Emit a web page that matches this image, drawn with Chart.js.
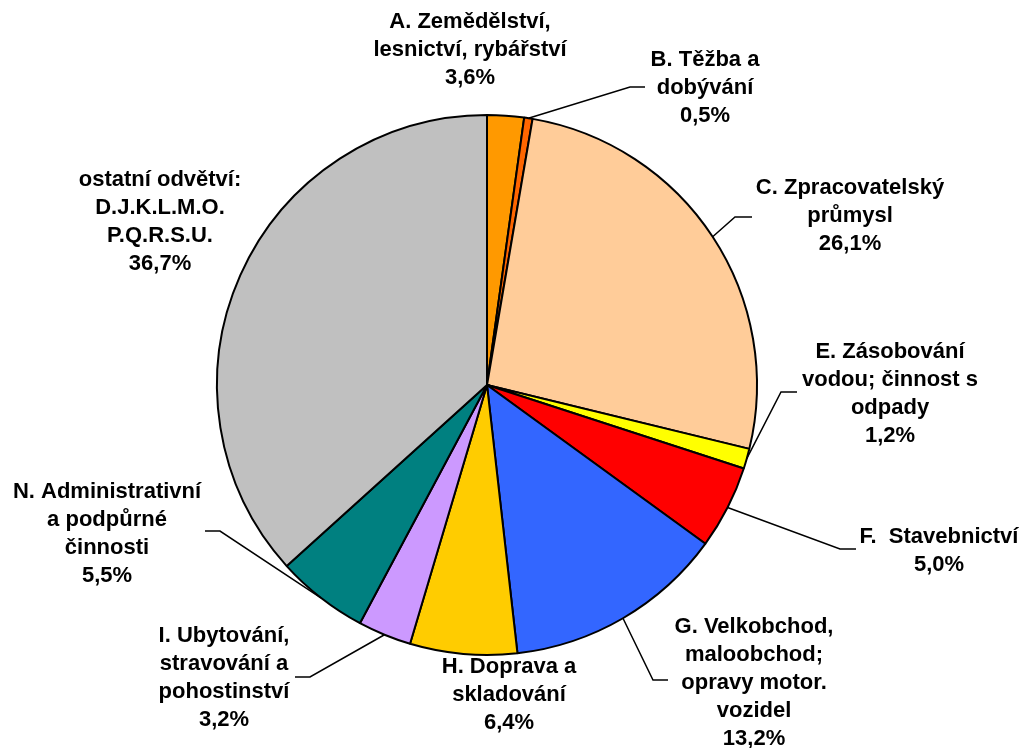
<!DOCTYPE html>
<html lang="cs">
<head>
    <meta charset="UTF-8">
    <title>Odvětví</title>
    <script src="https://cdn.jsdelivr.net/npm/chart.js"></script>
    <style>
        body { margin: 0; background: #ffffff; }
        canvas { display: block; }
    </style>
</head>
<body>
    <canvas id="pie" width="1022" height="748"></canvas>

    <script>
        // data
        const labels = [
            ['A. Zemědělství,', 'lesnictví, rybářství', '3,6%'],
            ['B. Těžba a', 'dobývání', '0,5%'],
            ['C. Zpracovatelský', 'průmysl', '26,1%'],
            ['E. Zásobování', 'vodou; činnost s', 'odpady', '1,2%'],
            ['F.  Stavebnictví', '5,0%'],
            ['G. Velkobchod,', 'maloobchod;', 'opravy motor.', 'vozidel', '13,2%'],
            ['H. Doprava a', 'skladování', '6,4%'],
            ['I. Ubytování,', 'stravování a', 'pohostinství', '3,2%'],
            ['N. Administrativní', 'a podpůrné', 'činnosti', '5,5%'],
            ['ostatní odvětví:', 'D.J.K.L.M.O.', 'P.Q.R.S.U.', '36,7%']
        ];
        const values = [2.2, 0.5, 26.1, 1.2, 5.0, 13.2, 6.4, 3.2, 5.5, 36.7];
        const colors = ['#FF9900', '#FF6600', '#FFCC99', '#FFFF00', '#FF0000',
                        '#3366FF', '#FFCC00', '#CC99FF', '#008080', '#C0C0C0'];

        // label placement, px relative to pie centre: [x, y of first line]
        const labelPos = [
            [-17, -363], [218, -325], [363, -197], [403, -33], [452, 152],
            [267, 242], [22, 282], [-263, 251], [-380, 107], [-327, -205]
        ];
        // leader lines: elbow and end point (null = no line)
        const leaders = [
            null,
            [[143, -298], [158, -298]],
            [[248, -168], [265, -168]],
            [[294, 7], [310, 7]],
            [[353, 164], [369, 164]],
            [[166, 295], [181, 295]],
            null,
            [[-177, 292], [-192, 292]],
            [[-267, 146], [-282, 146]],
            null
        ];

        const outsideLabels = {
            id: 'outsideLabels',
            afterDraw(chart) {
                const ctx = chart.ctx;
                const arcs = chart.getDatasetMeta(0).data;
                ctx.save();
                ctx.strokeStyle = '#000';
                ctx.lineWidth = 1.5;
                arcs.forEach((arc, i) => {
                    const cx = arc.x, cy = arc.y;
                    const l = leaders[i];
                    if (l) {
                        const mid = (arc.startAngle + arc.endAngle) / 2;
                        ctx.beginPath();
                        ctx.moveTo(cx + Math.cos(mid) * arc.outerRadius, cy + Math.sin(mid) * arc.outerRadius);
                        ctx.lineTo(cx + l[0][0], cy + l[0][1]);
                        ctx.lineTo(cx + l[1][0], cy + l[1][1]);
                        ctx.stroke();
                    }
                    ctx.fillStyle = '#000';
                    ctx.font = 'bold 22px "Liberation Sans", Arial, sans-serif';
                    ctx.textAlign = 'center';
                    ctx.textBaseline = 'middle';
                    labels[i].forEach((line, j) => {
                        ctx.fillText(line, cx + labelPos[i][0], cy + labelPos[i][1] + j * 28);
                    });
                });
                ctx.restore();
            }
        };

        new Chart(document.getElementById('pie'), {
            type: 'pie',
            data: {
                labels: labels.map(l => l.join(' ')),
                datasets: [{
                    data: values,
                    backgroundColor: colors,
                    borderColor: '#000',
                    borderWidth: 2
                }]
            },
            options: {
                responsive: false,
                animation: false,
                layout: { padding: { top: 114, bottom: 92, left: 216, right: 264 } },
                plugins: { legend: { display: false }, tooltip: { enabled: false } }
            },
            plugins: [outsideLabels]
        });
    </script>
</body>
</html>
